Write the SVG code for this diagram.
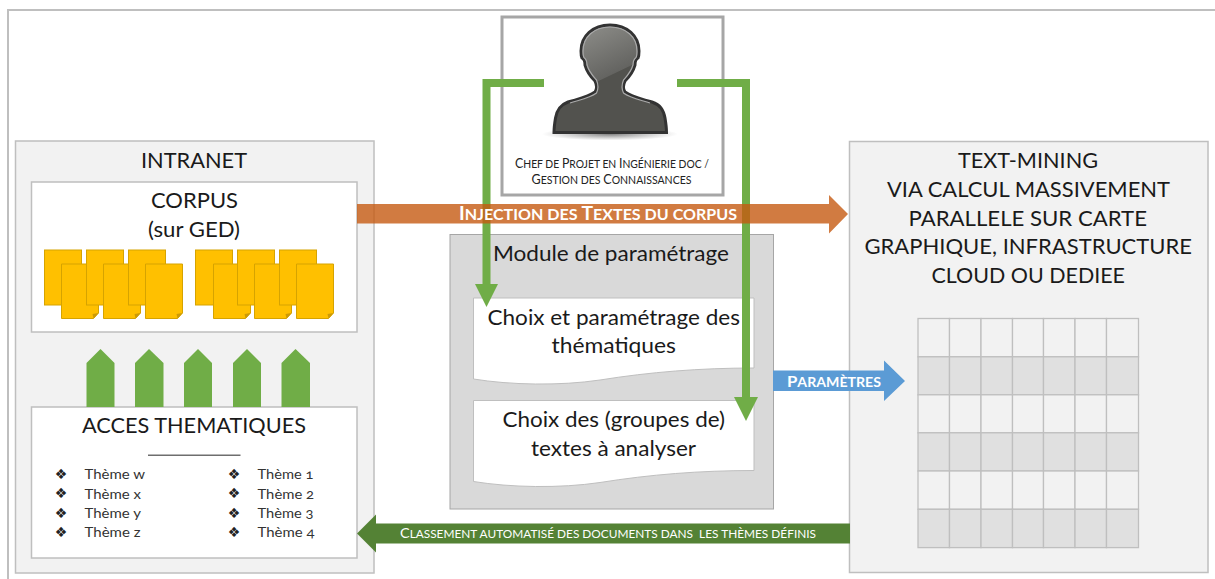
<svg xmlns="http://www.w3.org/2000/svg" width="1215" height="579" viewBox="0 0 1215 579">
<style>
text{font-family:"Lato","Open Sans","Liberation Sans",sans-serif;fill:#1a1a1a;text-anchor:start}
.big{font-size:21px}
.sc{font-size:10.500px;fill:#222}
.sc tspan{font-size:12.500px}
.lab{fill:#fff;white-space:pre}
.th{font-size:14px;fill:#333;font-variant-numeric:oldstyle-nums}
.bu{font-family:"DejaVu Sans",sans-serif;font-size:14px;fill:#222;text-anchor:middle}
.panel{fill:#f2f2f2;stroke:#bfbfbf;stroke-width:1.5}
.white{fill:#fff;stroke:#bfbfbf;stroke-width:1.5}
.doc{fill:#ffc000;stroke:#d6a300;stroke-width:1}
.fold{fill:#cc9a06}
.up{fill:#70ad47}
.elbow{fill:none;stroke:#70ad47;stroke-width:8}
.cl{fill:#f2f2f2;stroke:#bfbfbf;stroke-width:1.3}
.cd{fill:#e0e0e0;stroke:#bfbfbf;stroke-width:1.3}
</style>
<defs>
<g id="d"><path class="doc" d="M0 0H37V49L32 54.500H0Z"/><path class="fold" d="M37 49L32 54.500L31 50Z"/></g>
<rect id="dback" class="doc" width="37" height="55"/>
<linearGradient id="pg" gradientUnits="userSpaceOnUse" x1="590.600" y1="35.400" x2="610" y2="76">
<stop offset="0" stop-color="#858581"/><stop offset="0.98" stop-color="#646461"/><stop offset="1" stop-color="#52524e"/>
</linearGradient>
<radialGradient id="sh"><stop offset="0" stop-color="#555" stop-opacity="0.75"/><stop offset="1" stop-color="#777" stop-opacity="0"/></radialGradient>
</defs>

<path id="frame" d="M8 579V10H1215" fill="none" stroke="#bfbfbf" stroke-width="2"/>

<g id="intranet">
<rect class="panel" x="15.500" y="141" width="358.500" height="432"/>
<text class="big" x="141" y="168" textLength="106" lengthAdjust="spacingAndGlyphs">INTRANET</text>
</g>

<g id="corpus">
<rect class="white" x="31.500" y="182" width="325.500" height="150"/>
<text class="big" x="151" y="208" textLength="87" lengthAdjust="spacingAndGlyphs">CORPUS</text>
<text class="big" x="148" y="237" textLength="92" lengthAdjust="spacingAndGlyphs">(sur GED)</text>
<use href="#dback" x="44.500" y="250"/><use href="#d" x="61.500" y="264"/>
<use href="#dback" x="86.500" y="250"/><use href="#d" x="103.500" y="264"/>
<use href="#dback" x="128.500" y="250"/><use href="#d" x="145.500" y="264"/>
<use href="#dback" x="195.500" y="250"/><use href="#d" x="213.500" y="264"/>
<use href="#dback" x="237.500" y="250"/><use href="#d" x="254.500" y="264"/>
<use href="#dback" x="279.500" y="250"/><use href="#d" x="296.500" y="264"/>
</g>

<g id="acces">
<rect class="white" x="31.500" y="407" width="325.500" height="151"/>
<text class="big" x="82" y="433" textLength="224" lengthAdjust="spacingAndGlyphs">ACCES THEMATIQUES</text>
<rect x="148" y="454.500" width="92.500" height="1.500" fill="#6e6e6e"/>
<text class="bu" x="61" y="479">❖</text><text class="th" x="84.500" y="479" textLength="60.500" lengthAdjust="spacingAndGlyphs">Thème w</text>
<text class="bu" x="61" y="498">❖</text><text class="th" x="84.500" y="498.500" textLength="56.500" lengthAdjust="spacingAndGlyphs">Thème x</text>
<text class="bu" x="61" y="518">❖</text><text class="th" x="84.500" y="517.500" textLength="56.500" lengthAdjust="spacingAndGlyphs">Thème y</text>
<text class="bu" x="61" y="537">❖</text><text class="th" x="84.500" y="537" textLength="56" lengthAdjust="spacingAndGlyphs">Thème z</text>
<text class="bu" x="234" y="479">❖</text><text class="th" x="257.500" y="479" textLength="56" lengthAdjust="spacingAndGlyphs">Thème 1</text>
<text class="bu" x="234" y="498">❖</text><text class="th" x="257.500" y="498.500" textLength="56.500" lengthAdjust="spacingAndGlyphs">Thème 2</text>
<text class="bu" x="234" y="518">❖</text><text class="th" x="257.500" y="517.500" textLength="56" lengthAdjust="spacingAndGlyphs">Thème 3</text>
<text class="bu" x="234" y="537">❖</text><text class="th" x="257.500" y="537" textLength="57" lengthAdjust="spacingAndGlyphs">Thème 4</text>
</g>

<g id="chef">
<rect x="502" y="17" width="221" height="178" fill="#fff" stroke="#a6a6a6" stroke-width="3"/>
<ellipse cx="610" cy="134" rx="68" ry="6.500" fill="url(#sh)"/>
<path d="M610 25C593 25 581 36 581 51C581 54 581 56 582 58C584 59 585 62 585 65C587 72 590 76 595 81C597 85 597 89 595 92C589 97 578 99 568 102C560 105 557 110 555.500 118C554.500 124 554 128 554 132.500H666.500C666.500 128 666 124 665 118C663.500 110 660.500 105 652 102C642 99 631 97 625 92C623 89 623 85 625 81C630 76 633 72 635 65C635 62 636 59 638 58C639 56 639 54 639 51C639 36 627 25 610 25Z" fill="url(#pg)" stroke="#333" stroke-width="3"/>
<path d="M610 27C594 27 583 37 583 51C583 54 583 56 584 57.500C586 59 587 62 587 65C589 72 592 75 596.500 80C598.500 85 598.500 89 596.500 93C590 98 579 100 570 103" fill="none" stroke="#aaa" stroke-width="1.200"/>
<path d="M610 27C626 27 637 37 637 51C637 54 637 56 636 57.500C634 59 633 62 633 65C631 72 628 75 623.500 80C621.500 85 621.500 89 623.500 93C630 98 641 100 650 103" fill="none" stroke="#aaa" stroke-width="1.200"/>
<text class="sc" x="515" y="168" textLength="194" lengthAdjust="spacingAndGlyphs"><tspan>C</tspan>HEF DE <tspan>P</tspan>ROJET EN <tspan>I</tspan>NGÉNIERIE DOC /</text>
<text class="sc" x="531.500" y="184" textLength="160" lengthAdjust="spacingAndGlyphs"><tspan>G</tspan>ESTION DES <tspan>C</tspan>ONNAISSANCES</text>
</g>

<g id="module">
<rect x="450" y="234.500" width="323.500" height="274.500" fill="#d9d9d9" stroke="#a6a6a6" stroke-width="1"/>
<text class="big" x="493" y="261" textLength="236" lengthAdjust="spacingAndGlyphs">Module de paramétrage</text>
</g>

<g id="choix-thematiques">
<path d="M473.500 298H754V368C700 368 650 372 600 380C560 386 510 385 473.500 379Z" fill="#fff" stroke="#bfbfbf" stroke-width="1"/>
<text class="big" x="487.500" y="325" textLength="252.500" lengthAdjust="spacingAndGlyphs">Choix et paramétrage des</text>
<text class="big" x="551.500" y="353" textLength="124.500" lengthAdjust="spacingAndGlyphs">thématiques</text>
</g>

<g id="choix-textes">
<path d="M473.500 400.500H754V470.500C700 470.500 650 474.500 600 482.500C560 488.500 510 487.500 473.500 481.500Z" fill="#fff" stroke="#bfbfbf" stroke-width="1"/>
<text class="big" x="502.500" y="427" textLength="222.500" lengthAdjust="spacingAndGlyphs">Choix des (groupes de)</text>
<text class="big" x="531" y="456" textLength="165" lengthAdjust="spacingAndGlyphs">textes à analyser</text>
</g>

<g id="text-mining">
<rect class="panel" x="849.500" y="141.500" width="358.500" height="431"/>
<text class="big" x="958" y="168" textLength="140" lengthAdjust="spacingAndGlyphs">TEXT-MINING</text>
<text class="big" x="887" y="197" textLength="283" lengthAdjust="spacingAndGlyphs">VIA CALCUL MASSIVEMENT</text>
<text class="big" x="908.500" y="225.500" textLength="238.500" lengthAdjust="spacingAndGlyphs">PARALLELE SUR CARTE</text>
<text class="big" x="864.500" y="254" textLength="327.500" lengthAdjust="spacingAndGlyphs">GRAPHIQUE, INFRASTRUCTURE</text>
<text class="big" x="931.500" y="282.500" textLength="193.500" lengthAdjust="spacingAndGlyphs">CLOUD OU DEDIEE</text>
</g>

<g id="grille">
<rect class="cl" x="918" y="318.500" width="31.500" height="38.300"/><rect class="cl" x="949.500" y="318.500" width="31.500" height="38.300"/><rect class="cl" x="981" y="318.500" width="31.500" height="38.300"/><rect class="cl" x="1012.500" y="318.500" width="31" height="38.300"/><rect class="cl" x="1043.500" y="318.500" width="31.500" height="38.300"/><rect class="cl" x="1075" y="318.500" width="31.500" height="38.300"/><rect class="cl" x="1106.500" y="318.500" width="32" height="38.300"/>
<rect class="cd" x="918" y="356.800" width="31.500" height="38"/><rect class="cd" x="949.500" y="356.800" width="31.500" height="38"/><rect class="cd" x="981" y="356.800" width="31.500" height="38"/><rect class="cd" x="1012.500" y="356.800" width="31" height="38"/><rect class="cd" x="1043.500" y="356.800" width="31.500" height="38"/><rect class="cd" x="1075" y="356.800" width="31.500" height="38"/><rect class="cd" x="1106.500" y="356.800" width="32" height="38"/>
<rect class="cl" x="918" y="394.800" width="31.500" height="38"/><rect class="cl" x="949.500" y="394.800" width="31.500" height="38"/><rect class="cl" x="981" y="394.800" width="31.500" height="38"/><rect class="cl" x="1012.500" y="394.800" width="31" height="38"/><rect class="cl" x="1043.500" y="394.800" width="31.500" height="38"/><rect class="cl" x="1075" y="394.800" width="31.500" height="38"/><rect class="cl" x="1106.500" y="394.800" width="32" height="38"/>
<rect class="cd" x="918" y="432.800" width="31.500" height="38.200"/><rect class="cd" x="949.500" y="432.800" width="31.500" height="38.200"/><rect class="cd" x="981" y="432.800" width="31.500" height="38.200"/><rect class="cd" x="1012.500" y="432.800" width="31" height="38.200"/><rect class="cd" x="1043.500" y="432.800" width="31.500" height="38.200"/><rect class="cd" x="1075" y="432.800" width="31.500" height="38.200"/><rect class="cd" x="1106.500" y="432.800" width="32" height="38.200"/>
<rect class="cl" x="918" y="471" width="31.500" height="38.300"/><rect class="cl" x="949.500" y="471" width="31.500" height="38.300"/><rect class="cl" x="981" y="471" width="31.500" height="38.300"/><rect class="cl" x="1012.500" y="471" width="31" height="38.300"/><rect class="cl" x="1043.500" y="471" width="31.500" height="38.300"/><rect class="cl" x="1075" y="471" width="31.500" height="38.300"/><rect class="cl" x="1106.500" y="471" width="32" height="38.300"/>
<rect class="cd" x="918" y="509.300" width="31.500" height="38.300"/><rect class="cd" x="949.500" y="509.300" width="31.500" height="38.300"/><rect class="cd" x="981" y="509.300" width="31.500" height="38.300"/><rect class="cd" x="1012.500" y="509.300" width="31" height="38.300"/><rect class="cd" x="1043.500" y="509.300" width="31.500" height="38.300"/><rect class="cd" x="1075" y="509.300" width="31.500" height="38.300"/><rect class="cd" x="1106.500" y="509.300" width="32" height="38.300"/>
</g>

<g id="connectors">
<path class="up" d="M86.500 407V363L100.500 349L114.500 363V407Z"/>
<path class="up" d="M135 407V363L149 349L163.500 363V407Z"/>
<path class="up" d="M184 407V363L198 349L212 363V407Z"/>
<path class="up" d="M233 407V363L247 349L261 363V407Z"/>
<path class="up" d="M281.500 407V363L295.500 349L310 363V407Z"/>
<path class="elbow" d="M544 83H486.500V285"/>
<path class="up" d="M475 284H498L486.500 307Z"/>
<path class="elbow" d="M677 83H746V398"/>
<path class="up" d="M734 397H758L746 421Z"/>
<path d="M357 204H829V195L848 214L829 233.500V223.500H357Z" fill="#c55a11" fill-opacity="0.8"/>
<path d="M773 370.500H884V360.500L905 381L884 401V391H773Z" fill="#5b9bd5"/>
<path d="M850 523.500H376V514.500L357 533.500L376 552.500V543.500H850Z" fill="#548235"/>
<text class="lab" x="459" y="220" font-size="15" font-weight="700" textLength="278" lengthAdjust="spacingAndGlyphs"><tspan font-size="18">I</tspan>NJECTION DES <tspan font-size="18">T</tspan>EXTES DU CORPUS</text>
<text class="lab" x="787" y="387" font-size="13.500" font-weight="700" textLength="94" lengthAdjust="spacingAndGlyphs"><tspan font-size="16">P</tspan>ARAMÈTRES</text>
<text class="lab" x="400" y="538" font-size="11.500" textLength="416" lengthAdjust="spacingAndGlyphs"><tspan font-size="14">C</tspan>LASSEMENT AUTOMATISÉ DES DOCUMENTS DANS  LES THÈMES DÉFINIS</text>
</g>
</svg>
